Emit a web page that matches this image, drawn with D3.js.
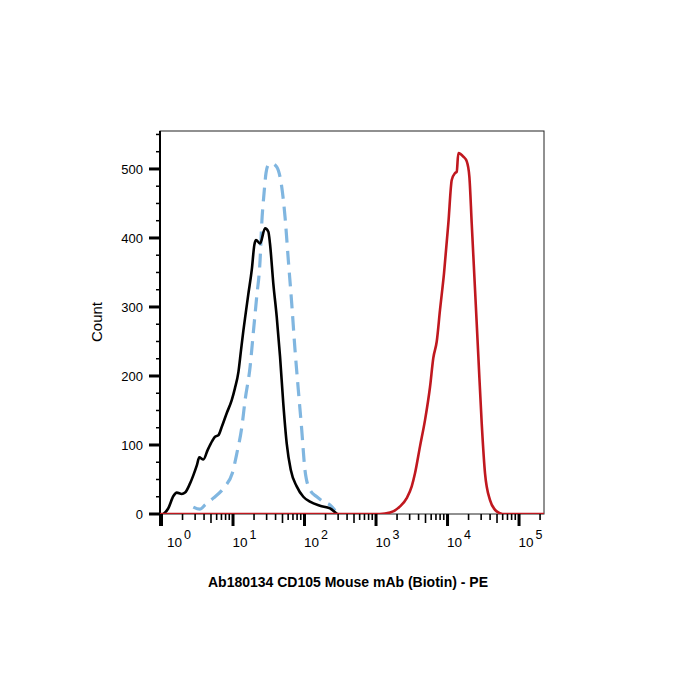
<!DOCTYPE html>
<html>
<head>
<meta charset="utf-8">
<script src="https://cdn.jsdelivr.net/npm/d3@7"></script>
<style>
  body { margin: 0; background: #fff; }
  text { font-family: Arial, "Liberation Sans", sans-serif; }
</style>
</head>
<body>
<div id="chart"></div>
<script>
// isotype control (black)
var isoX = [1.08, 1.26, 1.49, 1.66, 1.95, 2.17, 2.54, 2.83, 3.16, 3.43, 3.91, 4.50, 5.21, 5.69, 6.33, 7.06, 8.29, 9.75, 10.8, 12.1, 13.1, 14.2, 15.3, 16.6, 18.6, 20.2, 21.3, 24.3, 28.5, 31.7, 33.4, 37.2, 41.5, 46.2, 51.3, 57.3, 65.2, 79.0, 97.8, 121, 167, 231, 290]
var isoY = [0, 8, 26, 31, 29, 31, 44, 56, 70, 82, 79, 93, 106, 112, 114, 126, 146, 165, 182, 206, 236, 266, 291, 318, 354, 390, 397, 392, 414, 409, 392, 334, 286, 228, 160, 102, 64, 40, 25, 18, 12, 8, 0]

// unstained (blue dashed)
var blankX = [2.83, 3.5, 4.12, 5.39, 7.85, 9.93, 11.5, 13.5, 15.0, 17.6, 19.5, 21.8, 24.3, 25.6, 27.6, 29.4, 31.7, 35.7, 41.5, 48.8, 54.2, 60.3, 67.3, 74.8, 83.2, 92.9, 103, 121, 151, 186, 231, 272]
var blankY = [10, 7, 13, 23, 40, 59, 88, 126, 165, 213, 262, 315, 368, 420, 465, 494, 506, 508, 503, 474, 431, 368, 305, 238, 180, 122, 64, 35, 25, 18, 13, 5]

// CD105 stained (red)
var stainX = [0.968, 1150, 1596, 2202, 2731, 3208, 3565, 4189, 4921, 5781, 6427, 7178, 7980, 9078, 10430, 11640, 12940, 13670, 14390, 16900, 18880, 20520, 22140, 24640, 27420, 30560, 33980, 39920, 46900, 55100, 60000, 227000]
var stainY = [0, 0, 2, 11, 23, 40, 59, 98, 136, 184, 226, 250, 296, 349, 421, 484, 494, 496, 523, 518, 511, 489, 421, 325, 228, 131, 59, 20, 6, 1, 0, 0]

var yTicks = [0, 100, 200, 300, 400, 500]
var xDecades = [1, 10, 100, 1000, 10000, 100000]
var xExponents = ["0", "1", "2", "3", "4", "5"]
var xTitle = "Ab180134 CD105 Mouse mAb (Biotin) - PE"
var yTitle = "Count"

var w = 700
var h = 700
var pLeft = 160, pRight = 544, pTop = 131, pBottom = 514

var svg = d3.select("#chart")
            .append("svg")
            .attr("width", w)
            .attr("height", h)

var x = d3.scaleLog()
    .domain([0.968, 227000])
    .range([pLeft, pRight])

var y = d3.scaleLinear()
    .domain([0, 555])
    .range([pBottom, pTop])

// clip for curves
svg.append("clipPath").attr("id", "plotclip")
   .append("rect")
   .attr("x", pLeft).attr("y", pTop - 5)
   .attr("width", pRight - pLeft).attr("height", pBottom - pTop + 5)

// frame
svg.append("rect")
   .attr("x", pLeft).attr("y", pTop)
   .attr("width", pRight - pLeft).attr("height", pBottom - pTop)
   .attr("fill", "none")
   .attr("stroke", "#222")
   .attr("stroke-width", 1)

// y ticks (major + minor every 25)
var yMinor = d3.range(0, 551, 25)
svg.selectAll(".ytick")
   .data(yMinor)
   .enter()
   .append("line")
   .attr("x1", function(d) { return d % 100 === 0 ? pLeft - 11 : pLeft - 4 })
   .attr("x2", pLeft)
   .attr("y1", function(d) { return y(d) })
   .attr("y2", function(d) { return y(d) })
   .attr("stroke", "#000")
   .attr("stroke-width", function(d) { return d % 100 === 0 ? 3 : 1.5 })

svg.append("line")
   .attr("x1", pLeft).attr("x2", pLeft)
   .attr("y1", pTop).attr("y2", pBottom + 12)
   .attr("stroke", "#000").attr("stroke-width", 2)

svg.selectAll(".ylabel")
   .data(yTicks)
   .enter()
   .append("text")
   .attr("x", pLeft - 17)
   .attr("y", function(d) { return y(d) })
   .attr("dy", "0.36em")
   .attr("text-anchor", "end")
   .attr("font-size", "13px")
   .attr("fill", "#000")
   .text(function(d) { return d })

// x ticks: decades + 2..9
var xMinor = []
xDecades.forEach(function(dec) {
  for (var k = 2; k <= 9; k++) {
    if (dec * k <= x.domain()[1]) xMinor.push(dec * k)
  }
})

svg.selectAll(".xminor")
   .data(xMinor)
   .enter()
   .append("line")
   .attr("x1", function(d) { return x(d) })
   .attr("x2", function(d) { return x(d) })
   .attr("y1", pBottom)
   .attr("y2", function(d) { return pBottom + (Math.round(d / Math.pow(10, Math.floor(Math.log10(d) + 1e-9))) === 5 ? 9 : 6) })
   .attr("stroke", "#000")
   .attr("stroke-width", 1.6)

svg.selectAll(".xmajor")
   .data(xDecades)
   .enter()
   .append("line")
   .attr("x1", function(d) { return x(d) + 0.5 })
   .attr("x2", function(d) { return x(d) + 0.5 })
   .attr("y1", pBottom)
   .attr("y2", pBottom + 12)
   .attr("stroke", "#000")
   .attr("stroke-width", 3)

var xl = svg.selectAll(".xlabel")
   .data(xDecades)
   .enter()
   .append("text")
   .attr("x", function(d, i) { return x(d) + (i === 0 ? 6 : 0) })
   .attr("y", 547)
   .attr("font-size", "13.5px")
   .attr("fill", "#000")
xl.append("tspan").text("10")
xl.append("tspan")
  .attr("dx", 2)
  .attr("dy", -8)
  .attr("font-size", "12.5px")
  .text(function(d, i) { return xExponents[i] })

// curves
var line = d3.line()
    .x(function(d) { return x(d[0]) })
    .y(function(d) { return y(d[1]) })
    .curve(d3.curveMonotoneX)

var g = svg.append("g").attr("clip-path", "url(#plotclip)")

g.append("path")
 .datum(blankX.map(function(v, i) { return [v, blankY[i]] }))
 .attr("d", line)
 .attr("fill", "none")
 .attr("stroke", "#80b6e0")
 .attr("stroke-width", 3.2)
 .attr("stroke-dasharray", "14,8")

g.append("path")
 .datum(isoX.map(function(v, i) { return [v, isoY[i]] }))
 .attr("d", line)
 .attr("fill", "none")
 .attr("stroke", "#000")
 .attr("stroke-width", 2.6)
 .attr("stroke-linejoin", "round")

g.append("path")
 .datum(stainX.map(function(v, i) { return [v, stainY[i]] }))
 .attr("d", line)
 .attr("fill", "none")
 .attr("stroke", "#c0181f")
 .attr("stroke-width", 2.6)
 .attr("stroke-linejoin", "round")

// axis titles
svg.append("text")
   .attr("transform", "translate(102,322) rotate(-90)")
   .attr("text-anchor", "middle")
   .attr("font-size", "15px")
   .attr("fill", "#000")
   .text(yTitle)

svg.append("text")
   .attr("x", 348)
   .attr("y", 587)
   .attr("text-anchor", "middle")
   .attr("font-size", "14px")
   .attr("font-weight", "bold")
   .attr("fill", "#000")
   .text(xTitle)
</script>
</body>
</html>
